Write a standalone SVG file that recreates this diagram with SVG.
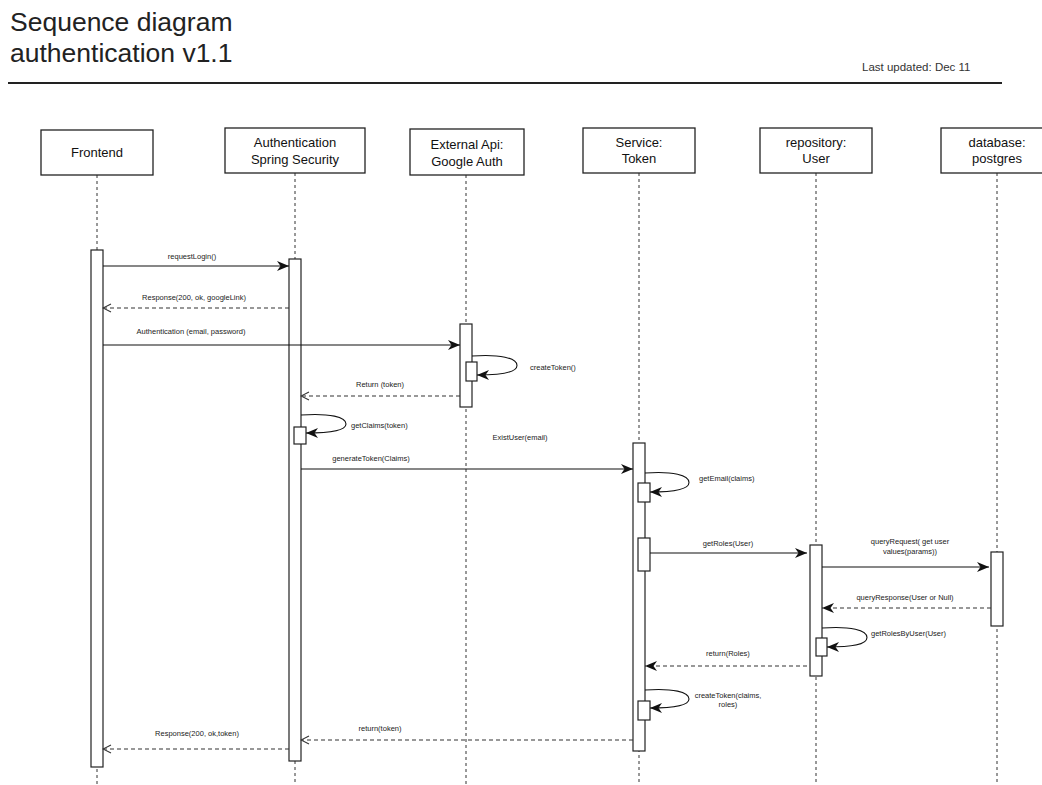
<svg xmlns="http://www.w3.org/2000/svg" width="1042" height="785" viewBox="0 0 1042 785">
  <defs>
    <style>
      .title { font-family: "Liberation Sans", Arial, sans-serif; font-size: 26.5px; fill: #222; }
      .stamp { font-family: "Liberation Sans", Arial, sans-serif; font-size: 11.5px; fill: #333; }
      .head { fill: #fff; stroke: #222; stroke-width: 1.3; }
      .headtxt { font-family: "Liberation Sans", Arial, sans-serif; font-size: 13px; fill: #111; text-anchor: middle; dominant-baseline: central; }
      .life { stroke: #333; stroke-width: 1; stroke-dasharray: 3 3; fill: none; }
      .bar { fill: #fff; stroke: #222; stroke-width: 1.2; }
      .msg { stroke: #111; stroke-width: 1.1; fill: none; }
      .ret { stroke: #333; stroke-width: 1.1; fill: none; stroke-dasharray: 4 3; }
      .lbl { font-family: "Liberation Sans", Arial, sans-serif; font-size: 7.5px; fill: #222; text-anchor: middle; dominant-baseline: central; }
      .lbl-l { text-anchor: start; }
    </style>
    <marker id="solid" viewBox="0 0 12 10" refX="12" refY="5" markerWidth="12" markerHeight="10" markerUnits="userSpaceOnUse" orient="auto">
      <path d="M0,0 L12,5 L0,10 L3.5,5 Z" fill="#111"/>
    </marker>
    <marker id="open" viewBox="0 0 10 10" refX="9" refY="5" markerWidth="10" markerHeight="10" markerUnits="userSpaceOnUse" orient="auto">
      <path d="M1,1 L9,5 L1,9" fill="none" stroke="#333" stroke-width="1.1"/>
    </marker>
  </defs>

  <rect width="1042" height="785" fill="#fff"/>

  <!-- header -->
  <g id="header">
    <text class="title" x="10" y="30.5">Sequence diagram</text>
    <text class="title" x="10" y="62">authentication v1.1</text>
    <text class="stamp" x="862" y="71">Last updated: Dec 11</text>
    <line x1="8" y1="83" x2="1002" y2="83" stroke="#222" stroke-width="2"/>
  </g>

  <!-- lifelines -->
  <g id="lifelines">
    <line class="life" x1="97" y1="175" x2="97" y2="785"/>
    <line class="life" x1="295" y1="173" x2="295" y2="785"/>
    <line class="life" x1="466" y1="175" x2="466" y2="785"/>
    <line class="life" x1="639" y1="173" x2="639" y2="785"/>
    <line class="life" x1="816" y1="173" x2="816" y2="785"/>
    <line class="life" x1="997" y1="173" x2="997" y2="785"/>
  </g>

  <!-- participants -->
  <g id="frontend">
    <rect class="head" x="41" y="130" width="112" height="45"/>
    <text class="headtxt" x="97" y="152.5">Frontend</text>
    <rect class="bar" x="91" y="250" width="12" height="517"/>
  </g>
  <g id="auth">
    <rect class="head" x="225" y="128" width="140" height="45"/>
    <text class="headtxt" x="295" y="142">Authentication</text>
    <text class="headtxt" x="295" y="159">Spring Security</text>
    <rect class="bar" x="289" y="259" width="12" height="502"/>
    <rect class="bar" x="294" y="427" width="12" height="17"/>
  </g>
  <g id="google">
    <rect class="head" x="410" y="129" width="114" height="46"/>
    <text class="headtxt" x="467" y="144">External Api:</text>
    <text class="headtxt" x="467" y="161">Google Auth</text>
    <rect class="bar" x="460" y="324" width="12" height="83"/>
    <rect class="bar" x="466" y="362" width="11" height="19"/>
  </g>
  <g id="token-service">
    <rect class="head" x="583" y="128" width="112" height="45"/>
    <text class="headtxt" x="639" y="142">Service:</text>
    <text class="headtxt" x="639" y="158">Token</text>
    <rect class="bar" x="633" y="443" width="12" height="308"/>
    <rect class="bar" x="638" y="483" width="12" height="19"/>
    <rect class="bar" x="638" y="538" width="12" height="33"/>
    <rect class="bar" x="638" y="701" width="12" height="19"/>
  </g>
  <g id="user-repository">
    <rect class="head" x="760" y="128" width="112" height="45"/>
    <text class="headtxt" x="816" y="142">repository:</text>
    <text class="headtxt" x="816" y="158">User</text>
    <rect class="bar" x="810" y="545" width="12" height="131"/>
    <rect class="bar" x="816" y="638" width="11" height="18"/>
  </g>
  <g id="postgres">
    <rect class="head" x="941" y="128" width="112" height="45"/>
    <text class="headtxt" x="997" y="142">database:</text>
    <text class="headtxt" x="997" y="158">postgres</text>
    <rect class="bar" x="991" y="552" width="12" height="74"/>
  </g>

  <!-- messages -->
  <g id="connectors">
    <line class="msg" x1="103" y1="266" x2="289" y2="266" marker-end="url(#solid)"/>
    <text class="lbl" x="192" y="256">requestLogin()</text>

    <line class="ret" x1="289" y1="308" x2="103" y2="308" marker-end="url(#open)"/>
    <text class="lbl" x="194" y="297">Response(200, ok, googleLink)</text>

    <line class="msg" x1="103" y1="345" x2="460" y2="345" marker-end="url(#solid)"/>
    <text class="lbl" x="191" y="331">Authentication (email, password)</text>

    <path class="msg" d="M472,356 C500,354 517,358 517,365.5 C517,373 500,375 477,375" marker-end="url(#solid)"/>
    <text class="lbl lbl-l" x="530" y="367">createToken()</text>

    <line class="ret" x1="460" y1="396" x2="301" y2="396" marker-end="url(#open)"/>
    <text class="lbl" x="380" y="384">Return (token)</text>

    <path class="msg" d="M301,415 C330,413 346,417 346,424 C346,431 330,433 306,433" marker-end="url(#solid)"/>
    <text class="lbl lbl-l" x="351" y="425">getClaims(token)</text>

    <text class="lbl" x="520" y="437">ExistUser(email)</text>

    <line class="msg" x1="301" y1="469" x2="633" y2="469" marker-end="url(#solid)"/>
    <text class="lbl" x="371" y="458">generateToken(Claims)</text>

    <path class="msg" d="M645,473 C673,471 689,475 689,482.5 C689,490 673,492 650,492" marker-end="url(#solid)"/>
    <text class="lbl lbl-l" x="699" y="478">getEmail(claims)</text>

    <line class="msg" x1="650" y1="553" x2="807" y2="553" marker-end="url(#solid)"/>
    <text class="lbl" x="728" y="543">getRoles(User)</text>

    <line class="msg" x1="822" y1="567" x2="989" y2="567" marker-end="url(#solid)"/>
    <text class="lbl" x="910" y="541">queryRequest( get user</text>
    <text class="lbl" x="910" y="551">values(params))</text>

    <line class="ret" x1="991" y1="608" x2="822" y2="608" marker-end="url(#solid)"/>
    <text class="lbl" x="905" y="597">queryResponse(User or Null)</text>

    <path class="msg" d="M822,628 C851,626 867,630 867,637.5 C867,645 851,647 827,647" marker-end="url(#solid)"/>
    <text class="lbl lbl-l" x="871" y="633">getRolesByUser(User)</text>

    <line class="ret" x1="807" y1="666" x2="645" y2="666" marker-end="url(#solid)"/>
    <text class="lbl" x="728" y="653">return(Roles)</text>

    <path class="msg" d="M645,690 C673,688 689,692 689,699 C689,706 673,708 650,708" marker-end="url(#solid)"/>
    <text class="lbl" x="728" y="695">createToken(claims,</text>
    <text class="lbl" x="728" y="704">roles)</text>

    <line class="ret" x1="633" y1="740" x2="301" y2="740" marker-end="url(#open)"/>
    <text class="lbl" x="380" y="728">return(token)</text>

    <line class="ret" x1="289" y1="749" x2="103" y2="749" marker-end="url(#open)"/>
    <text class="lbl" x="197" y="733">Response(200, ok,token)</text>
  </g>
</svg>
